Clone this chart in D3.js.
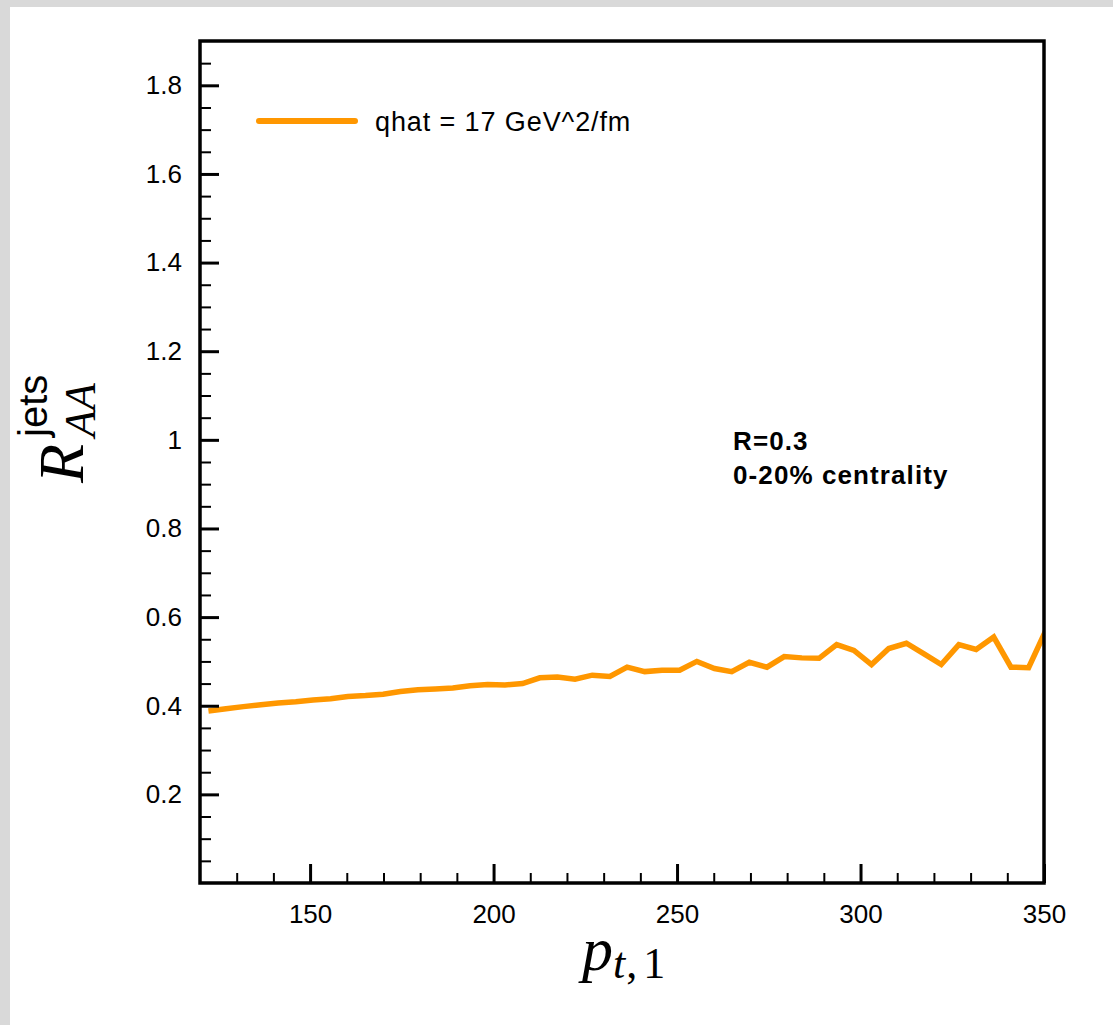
<!DOCTYPE html>
<html>
<head>
<meta charset="utf-8">
<script src="https://cdn.jsdelivr.net/npm/d3@7"></script>
<style>
  html, body { margin: 0; padding: 0; background: #d9d9d9; }
  svg { display: block; }
</style>
</head>
<body>
<svg id="chart" width="1113" height="1025"></svg>
<script>
// Jet nuclear modification factor vs leading-jet pt
const ptValues = [122.3, 127.1, 131.8, 136.6, 141.3, 146.1, 150.8, 155.6, 160.3, 165.1,
  169.9, 174.6, 179.4, 184.1, 188.9, 193.6, 198.4, 203.1, 207.9, 212.6,
  217.4, 222.2, 226.9, 231.7, 236.4, 241.2, 245.9, 250.7, 255.4, 260.2,
  264.9, 269.7, 274.5, 279.2, 284.0, 288.7, 293.5, 298.2, 303.0, 307.7,
  312.5, 317.3, 322.0, 326.8, 331.5, 336.3, 341.0, 345.8, 350.5];
const raaValues = [0.388, 0.393, 0.398, 0.402, 0.406, 0.409, 0.413, 0.416, 0.421, 0.423,
  0.426, 0.432, 0.436, 0.438, 0.440, 0.445, 0.448, 0.447, 0.450, 0.463,
  0.465, 0.460, 0.469, 0.466, 0.487, 0.477, 0.480, 0.480, 0.500, 0.484,
  0.477, 0.498, 0.487, 0.511, 0.508, 0.507, 0.538, 0.525, 0.493, 0.529,
  0.541, 0.517, 0.493, 0.538, 0.527, 0.555, 0.487, 0.486, 0.570];
const seriesLabel = "qhat = 17 GeV^2/fm";
const xMajorTicks = [150, 200, 250, 300, 350];
const yMajorTicks = [0.2, 0.4, 0.6, 0.8, 1.0, 1.2, 1.4, 1.6, 1.8];
const notes = ["R=0.3", "0-20% centrality"];

const lineColor = "#ff9700";
const sans = "'Liberation Sans', Arial, Helvetica, sans-serif";
const serif = "'Liberation Serif', 'Times New Roman', serif";

const svg = d3.select("#chart");

// white sheet
svg.append("rect").attr("x", 10).attr("y", 7).attr("width", 1103).attr("height", 1018).attr("fill", "#ffffff");

const plot = { left: 200, right: 1044, top: 41, bottom: 883 };

const x = d3.scaleLinear().domain([120, 350]).range([plot.left, plot.right]);
const y = d3.scaleLinear().domain([0, 1.9]).range([plot.bottom, plot.top]);

svg.append("defs").append("clipPath").attr("id", "plotClip")
  .append("rect")
  .attr("x", plot.left).attr("y", plot.top)
  .attr("width", plot.right - plot.left).attr("height", plot.bottom - plot.top);

// data line
const points = ptValues.map((p, i) => [p, raaValues[i]]);
svg.append("path")
  .datum(points)
  .attr("clip-path", "url(#plotClip)")
  .attr("fill", "none")
  .attr("stroke", lineColor)
  .attr("stroke-width", 5.5)
  .attr("stroke-linejoin", "miter")
  .attr("d", d3.line().x(d => x(d[0])).y(d => y(d[1])));

// minor ticks
const xMinor = d3.range(130, 350, 10).filter(v => v % 50 !== 0);
const yMinor = d3.range(1, 38).map(k => k * 0.05).filter(v => Math.abs(v * 5 - Math.round(v * 5)) > 1e-6);

svg.append("g")
  .attr("transform", `translate(0,${plot.bottom})`)
  .call(d3.axisBottom(x).tickValues(xMinor).tickSize(-10).tickFormat(""))
  .call(g => g.select(".domain").remove())
  .call(g => g.selectAll("line").attr("stroke", "#000").attr("stroke-width", 2));

svg.append("g")
  .attr("transform", `translate(${plot.left},0)`)
  .call(d3.axisLeft(y).tickValues(yMinor).tickSize(-11).tickFormat(""))
  .call(g => g.select(".domain").remove())
  .call(g => g.selectAll("line").attr("stroke", "#000").attr("stroke-width", 2));

// major ticks with labels
svg.append("g")
  .attr("transform", `translate(0,${plot.bottom})`)
  .call(d3.axisBottom(x).tickValues(xMajorTicks).tickSize(-19).tickPadding(22).tickFormat(d3.format("d")))
  .call(g => g.select(".domain").remove())
  .call(g => g.selectAll("line").attr("stroke", "#000").attr("stroke-width", 3))
  .call(g => g.selectAll("text").attr("fill", "#000").attr("font-family", sans).attr("font-size", 26));

svg.append("g")
  .attr("transform", `translate(${plot.left},0)`)
  .call(d3.axisLeft(y).tickValues(yMajorTicks).tickSize(-19).tickPadding(18).tickFormat(d => d3.format("")(+d.toFixed(1))))
  .call(g => g.select(".domain").remove())
  .call(g => g.selectAll("line").attr("stroke", "#000").attr("stroke-width", 3))
  .call(g => g.selectAll("text").attr("fill", "#000").attr("font-family", sans).attr("font-size", 26));

// frame
svg.append("rect")
  .attr("x", plot.left).attr("y", plot.top)
  .attr("width", plot.right - plot.left).attr("height", plot.bottom - plot.top)
  .attr("fill", "none").attr("stroke", "#000").attr("stroke-width", 3.5);

// legend
svg.append("line")
  .attr("x1", 259).attr("x2", 355).attr("y1", 121).attr("y2", 121)
  .attr("stroke", lineColor).attr("stroke-width", 6).attr("stroke-linecap", "round");
svg.append("text")
  .attr("x", 375).attr("y", 131)
  .attr("font-family", sans).attr("font-size", 27).attr("letter-spacing", 0.9).attr("fill", "#000")
  .text(seriesLabel);

// run conditions
svg.append("g").selectAll("text").data(notes).join("text")
  .attr("x", 733).attr("y", (d, i) => 450 + i * 34)
  .attr("font-family", sans).attr("font-size", 26).attr("font-weight", "bold")
  .attr("letter-spacing", 1.1).attr("fill", "#000")
  .text(d => d);

// x axis title: p_{t,1}
const xt = svg.append("text").attr("x", 582).attr("y", 970).attr("fill", "#000").attr("font-family", serif);
xt.append("tspan").attr("font-style", "italic").attr("font-size", 62).text("p");
xt.append("tspan").attr("font-style", "italic").attr("font-size", 44).attr("dy", 8).text("t");
xt.append("tspan").attr("font-size", 44).attr("dx", 1).text(",");
xt.append("tspan").attr("font-size", 44).attr("dx", 6).text("1");

// y axis title: R^{jets}_{AA}
const yt = svg.append("g").attr("transform", "translate(83,483) rotate(-90)");
yt.append("text").attr("x", 0).attr("y", 0)
  .attr("font-family", serif).attr("font-style", "italic").attr("font-size", 64).attr("fill", "#000").text("R");
yt.append("text").attr("x", 46).attr("y", -36)
  .attr("font-family", sans).attr("font-size", 40).attr("fill", "#000").text("jets");
yt.append("text").attr("x", 46).attr("y", 12)
  .attr("font-family", serif).attr("font-style", "italic").attr("font-size", 44).attr("fill", "#000").text("AA");
</script>
</body>
</html>
